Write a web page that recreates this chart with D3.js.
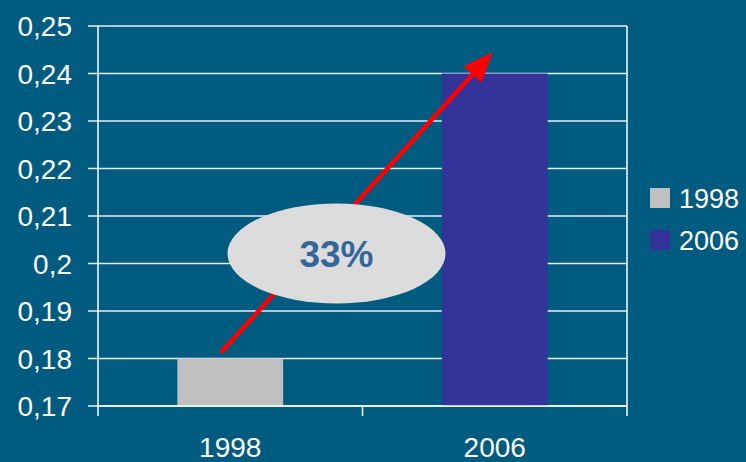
<!DOCTYPE html>
<html>
<head>
<meta charset="utf-8">
<script src="https://cdn.jsdelivr.net/npm/d3@7"></script>
<style>
  html, body { margin: 0; padding: 0; background: #005b81; }
  svg { display: block; font-family: "Liberation Sans", Arial, sans-serif; }
</style>
</head>
<body>
<svg id="chart" width="746" height="462"></svg>
<script>
const categories = ["1998", "2006"];
const values = [0.18, 0.24];
const colors = ["#c0c0c0", "#333399"];
const yTicks = [0.17, 0.18, 0.19, 0.2, 0.21, 0.22, 0.23, 0.24, 0.25];
// arrow annotation: [category, band fraction, value]
const arrowFrom = ["1998", 0.41, 0.1812];
const arrowTo = ["2006", 0.48, 0.2445];
const bubble = { label: "33%", value: 0.2021 };

const W = 746, H = 462;
const margin = { left: 98, right: 119, top: 26, bottom: 56 };

const svg = d3.select("#chart");
const loc = d3.formatLocale({ decimal: ",", thousands: ".", grouping: [3], currency: ["", ""] });
const fmt = loc.format(".2~f");

const x = d3.scaleBand()
    .domain(categories)
    .range([margin.left, W - margin.right])
    .paddingInner(0.6)
    .paddingOuter(0.3);
const y = d3.scaleLinear()
    .domain([0.17, 0.25])
    .range([H - margin.bottom, margin.top]);

const x0 = margin.left, x1 = W - margin.right;
const y0 = y(0.17);

// gridlines + left ticks
svg.append("g").selectAll("line")
    .data(yTicks)
    .enter()
    .append("line")
    .attr("x1", x0 - 10)
    .attr("x2", x1)
    .attr("y1", d => y(d))
    .attr("y2", d => y(d))
    .attr("stroke", "#e4eef3")
    .attr("stroke-width", 1.5);

// y labels
svg.append("g").selectAll("text")
    .data(yTicks)
    .enter()
    .append("text")
    .attr("x", 72)
    .attr("y", d => y(d))
    .attr("dy", ".36em")
    .attr("text-anchor", "end")
    .attr("fill", "#ffffff")
    .attr("font-size", 28)
    .text(d => fmt(d));

// bars
svg.append("g").selectAll("rect")
    .data(categories)
    .enter()
    .append("rect")
    .attr("x", d => x(d))
    .attr("width", x.bandwidth())
    .attr("y", (d, i) => y(values[i]))
    .attr("height", (d, i) => y0 - y(values[i]))
    .attr("fill", (d, i) => colors[i]);

// axes lines
svg.append("line")
    .attr("x1", x0).attr("x2", x0)
    .attr("y1", y(0.25)).attr("y2", y0 + 10)
    .attr("stroke", "#fff").attr("stroke-width", 1.5);
svg.append("line")
    .attr("x1", x1).attr("x2", x1)
    .attr("y1", y(0.25)).attr("y2", y0 + 10)
    .attr("stroke", "#fff").attr("stroke-width", 1.5);
svg.append("line")
    .attr("x1", x0).attr("x2", x1)
    .attr("y1", y0).attr("y2", y0)
    .attr("stroke", "#fff").attr("stroke-width", 1.5);
// category boundary ticks
svg.append("g").selectAll("line")
    .data(categories.slice(1))
    .enter()
    .append("line")
    .attr("x1", d => x(d) - x.step() * x.paddingInner() / 2)
    .attr("x2", d => x(d) - x.step() * x.paddingInner() / 2)
    .attr("y1", y0)
    .attr("y2", y0 + 10)
    .attr("stroke", "#fff").attr("stroke-width", 1.5);

// x labels
svg.append("g").selectAll("text")
    .data(categories)
    .enter()
    .append("text")
    .attr("x", d => x(d) + x.bandwidth() / 2)
    .attr("y", H - 5)
    .attr("text-anchor", "middle")
    .attr("fill", "#fff")
    .attr("font-size", 28)
    .text(d => d);

// arrow
const ax0 = x(arrowFrom[0]) + x.bandwidth() * arrowFrom[1], ay0 = y(arrowFrom[2]);
const ax1 = x(arrowTo[0]) + x.bandwidth() * arrowTo[1], ay1 = y(arrowTo[2]);
const ang = Math.atan2(ay1 - ay0, ax1 - ax0);
const headLen = 30, headW = 12;
const bx = ax1 - headLen * Math.cos(ang), by = ay1 - headLen * Math.sin(ang);
svg.append("line")
    .attr("x1", ax0).attr("y1", ay0)
    .attr("x2", bx + 4 * Math.cos(ang)).attr("y2", by + 4 * Math.sin(ang))
    .attr("stroke", "#ff0000")
    .attr("stroke-width", 4.5);
svg.append("path")
    .attr("d", d3.line()([
        [ax1, ay1],
        [bx - headW * Math.sin(ang), by + headW * Math.cos(ang)],
        [bx + headW * Math.sin(ang), by - headW * Math.cos(ang)]
    ]) + "Z")
    .attr("fill", "#ff0000");

// bubble
const cx = (x("1998") + x("2006") + x.bandwidth()) / 2 - 26;
svg.append("ellipse")
    .attr("cx", cx)
    .attr("cy", y(bubble.value))
    .attr("rx", 109)
    .attr("ry", 50)
    .attr("fill", "#dcdcdc");
svg.append("text")
    .attr("x", cx)
    .attr("y", y(bubble.value))
    .attr("dy", ".36em")
    .attr("text-anchor", "middle")
    .attr("fill", "#336699")
    .attr("font-size", 37)
    .attr("font-weight", "bold")
    .text(bubble.label);

// legend
const leg = svg.append("g").selectAll("g")
    .data(categories)
    .enter()
    .append("g")
    .attr("transform", (d, i) => "translate(650," + (188 + i * 42) + ")");
leg.append("rect")
    .attr("width", 20).attr("height", 20)
    .attr("fill", (d, i) => colors[i]);
leg.append("text")
    .attr("x", 29)
    .attr("y", 10)
    .attr("dy", ".36em")
    .attr("fill", "#fff")
    .attr("font-size", 27)
    .text(d => d);
</script>
</body>
</html>
